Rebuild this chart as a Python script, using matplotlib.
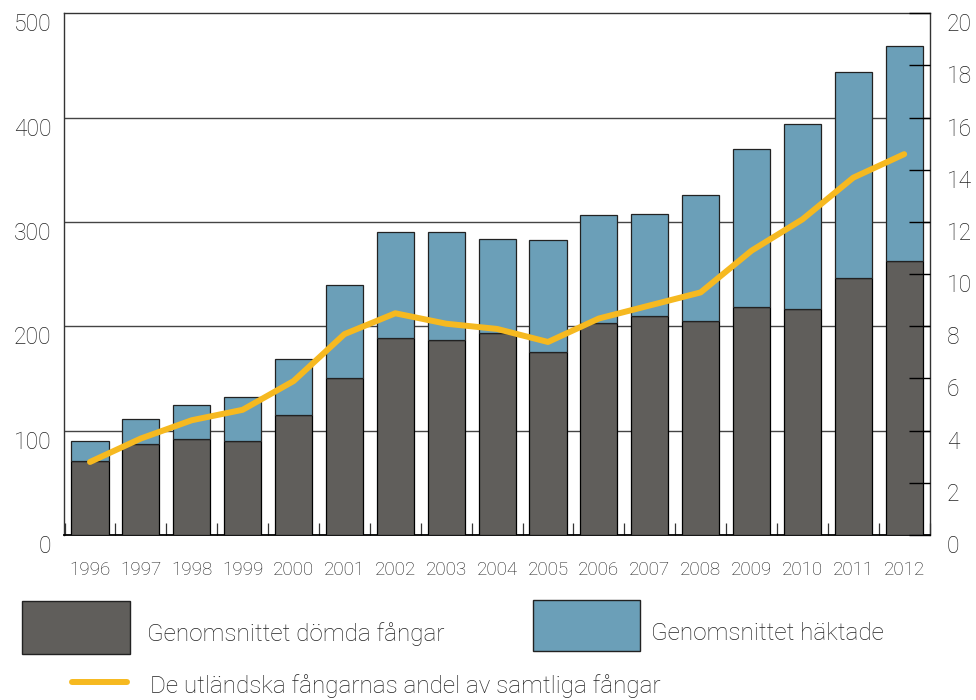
import numpy as np
import matplotlib.pyplot as plt
from matplotlib.patches import Rectangle
from matplotlib.lines import Line2D

years = ['1996', '1997', '1998', '1999', '2000', '2001', '2002', '2003', '2004',
         '2005', '2006', '2007', '2008', '2009', '2010', '2011', '2012']
domda = [71, 87, 92, 90, 115, 150, 189, 187, 194, 175, 203, 210, 205, 219, 217, 246, 263]
totalt = [90, 111, 125, 132, 169, 240, 290, 290, 284, 283, 307, 308, 326, 370, 394, 444, 469]
haktade = [t - d for t, d in zip(totalt, domda)]
andel = [2.8, 3.7, 4.4, 4.8, 5.9, 7.7, 8.5, 8.1, 7.9, 7.4, 8.3, 8.8, 9.3, 10.9, 12.1, 13.7, 14.6]

c_dark = '#605e5b'
c_blue = '#6b9fb8'
c_yellow = '#f6b920'
fnt = 'Roboto'

fig = plt.figure(figsize=(9.76, 7.0), dpi=100)
ax = fig.add_axes([0.0656, 0.2357, 0.8874, 0.7453])
x = np.arange(len(years))

ax.bar(x, domda, width=0.73, color=c_dark, edgecolor='black', linewidth=0.9, zorder=3)
ax.bar(x, haktade, width=0.73, bottom=domda, color=c_blue, edgecolor='#222222', linewidth=0.9, zorder=3)

ax.set_xlim(-0.51, 16.51)
ax.set_ylim(0, 500)
ax.set_yticks([0, 100, 200, 300, 400, 500])
for v in [100, 200, 300, 400]:
    ax.axhline(v, color='#444444', linewidth=1.0, zorder=1)
ax.tick_params(axis='y', length=0, pad=9, labelsize=16.5, labelcolor='#222222')
for lab in ax.get_yticklabels():
    lab.set_fontfamily(fnt)
    lab.set_fontweight('light')
    lab.set_verticalalignment('top')

ax.set_xticks(x)
ax.set_xticklabels(years, fontsize=13.5, fontfamily=fnt, fontweight='light', color='#222222')
ax.tick_params(axis='x', which='major', length=0, pad=19)
ax.set_xticks(np.arange(-0.5, 17, 1), minor=True)
ax.tick_params(axis='x', which='minor', direction='in', length=8.5, width=0.9, color='#333333')

for s in ax.spines.values():
    s.set_linewidth(1.0)
    s.set_color('#333333')
ax.spines['bottom'].set_color('black')
ax.spines['bottom'].set_linewidth(1.3)

ax2 = ax.twinx()
ax2.set_ylim(0, 20)
ax2.set_yticks(np.arange(0, 21, 2))
ax2.tick_params(axis='y', direction='in', length=15, width=1.0, pad=12, labelsize=16.5,
                labelcolor='#222222')
for lab in ax2.get_yticklabels():
    lab.set_fontfamily(fnt)
    lab.set_fontweight('light')
    lab.set_verticalalignment('top')
ax2.plot(x, andel, color=c_yellow, linewidth=4.3, solid_capstyle='round',
         solid_joinstyle='round', zorder=5)
for s in ax2.spines.values():
    s.set_visible(False)

# legend drawn by hand
fig.patches.append(Rectangle((22 / 976, 1 - 654 / 700), 108 / 976, 53 / 700,
                             transform=fig.transFigure, facecolor=c_dark,
                             edgecolor='#222222', linewidth=1.0))
fig.patches.append(Rectangle((533 / 976, 1 - 651 / 700), 107 / 976, 51 / 700,
                             transform=fig.transFigure, facecolor=c_blue,
                             edgecolor='#222222', linewidth=1.0))
fig.lines.append(Line2D([72 / 976, 127 / 976], [1 - 682 / 700, 1 - 682 / 700],
                        transform=fig.transFigure, color=c_yellow, linewidth=4.3,
                        solid_capstyle='round'))
fig.text(147 / 976, 1 - 634 / 700, 'Genomsnittet dömda fångar', fontsize=17.5,
         fontfamily=fnt, fontweight='light', va='center', color='#222222')
fig.text(651 / 976, 1 - 634 / 700, 'Genomsnittet häktade', fontsize=17.5,
         fontfamily=fnt, fontweight='light', va='center', color='#222222')
fig.text(150 / 976, 1 - 686 / 700, 'De utländska fångarnas andel av samtliga fångar',
         fontsize=17.5, fontfamily=fnt, fontweight='light', va='center', color='#222222')

fig.savefig('out.png', dpi=100)
